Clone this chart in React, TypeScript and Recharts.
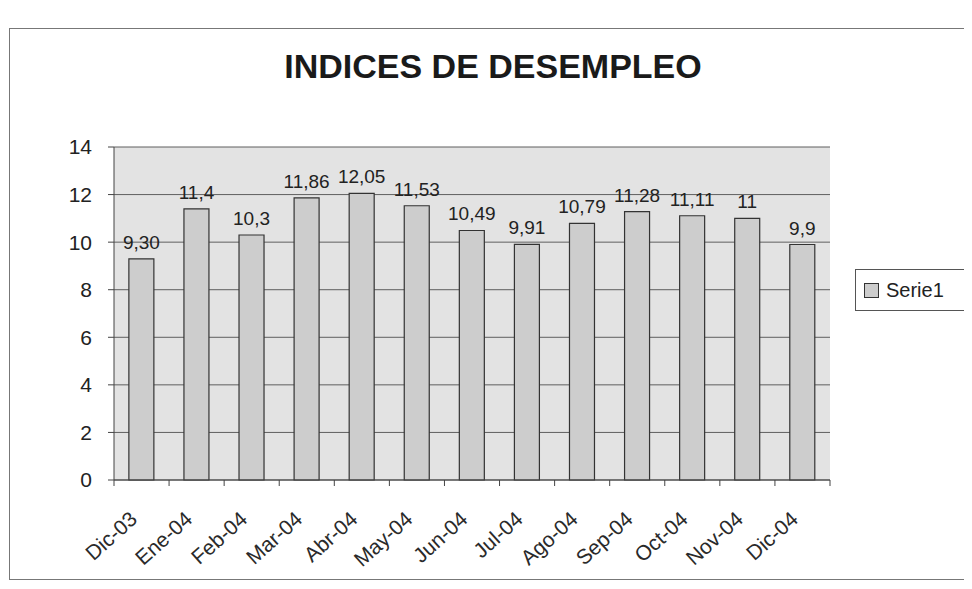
import React from "react";
import {
  BarChart,
  Bar,
  XAxis,
  YAxis,
  CartesianGrid,
  LabelList,
} from "recharts";

const categories = [
  "Dic-03", "Ene-04", "Feb-04", "Mar-04", "Abr-04", "May-04", "Jun-04",
  "Jul-04", "Ago-04", "Sep-04", "Oct-04", "Nov-04", "Dic-04",
];
const values = [9.3, 11.4, 10.3, 11.86, 12.05, 11.53, 10.49, 9.91, 10.79, 11.28, 11.11, 11, 9.9];
const valueLabels = ["9,30", "11,4", "10,3", "11,86", "12,05", "11,53", "10,49", "9,91", "10,79", "11,28", "11,11", "11", "9,9"];
const yTicks = [0, 2, 4, 6, 8, 10, 12, 14];
const seriesName = "Serie1";
const title = "INDICES DE DESEMPLEO";

const data = categories.map((c, i) => ({ name: c, value: values[i], label: valueLabels[i] }));

const FONT = "'Liberation Sans', Arial, sans-serif";
const CHART_W = 956;
const CHART_H = 573;
const MARGIN = { top: 139, right: 134, left: 56, bottom: 21 };
const PLOT_W = CHART_W - MARGIN.left - MARGIN.right - 50;

const XTick = (props: any) => {
  const { x, y, payload } = props;
  const half = PLOT_W / categories.length / 2;
  const ax = x - 3;
  const ay = y + 33;
  return (
    <g>
      <line x1={x + half} y1={y - 8} x2={x + half} y2={y - 2} stroke="#444" strokeWidth={1} />
      {payload.index === 0 && (
        <line x1={x - half} y1={y - 8} x2={x - half} y2={y - 2} stroke="#444" strokeWidth={1} />
      )}
      <text
        x={ax}
        y={ay}
        textAnchor="end"
        transform={`rotate(-42, ${ax}, ${ay})`}
        fill="#2a2a2a"
        fontSize={21}
        fontFamily={FONT}
      >
        {payload.value}
      </text>
    </g>
  );
};

export default function App() {
  return (
    <div style={{ position: "relative", width: CHART_W, height: CHART_H, background: "#fff" }}>
      <style>{"body{overflow:hidden;background:#fff}"}</style>
      <div
        style={{
          position: "absolute",
          left: 1,
          top: 20,
          width: 970,
          height: 552,
          borderTop: "1.5px solid #777",
          borderLeft: "1.5px solid #777",
          borderBottom: "1.5px solid #777",
          boxSizing: "border-box",
          pointerEvents: "none",
        }}
      />
      <div
        style={{
          position: "absolute",
          left: 0,
          top: 40,
          width: 970,
          textAlign: "center",
          fontFamily: FONT,
          fontWeight: "bold",
          fontSize: 34,
          color: "#1a1a1a",
          lineHeight: "36px",
        }}
      >
        {title}
      </div>
      <div
        style={{
          position: "absolute",
          left: 847,
          top: 261,
          width: 111,
          height: 42,
          border: "1px solid #555",
          boxSizing: "border-box",
          display: "flex",
          alignItems: "center",
          paddingLeft: 8,
          fontFamily: FONT,
          fontSize: 20,
          color: "#222",
          background: "#fff",
        }}
      >
        <span
          style={{
            display: "inline-block",
            width: 13,
            height: 13,
            border: "1px solid #333",
            background: "#cdcdcd",
            marginRight: 7,
          }}
        />
        {seriesName}
      </div>
      <BarChart width={CHART_W} height={CHART_H} data={data} margin={MARGIN} barCategoryGap="27%">
        <CartesianGrid vertical={false} stroke="#5f5f5f" fill="#e3e3e3" strokeWidth={1} />
        <XAxis
          dataKey="name"
          interval={0}
          height={80}
          tick={<XTick />}
          tickLine={false}
          axisLine={{ stroke: "#444" }}
        />
        <YAxis
          domain={[0, 14]}
          ticks={yTicks}
          width={50}
          interval={0}
          tickSize={6}
          tickMargin={16}
          tickLine={{ stroke: "#444" }}
          axisLine={{ stroke: "#444" }}
          tick={{ fill: "#222", fontSize: 21, fontFamily: FONT }}
        />
        <YAxis
          yAxisId="right"
          orientation="right"
          domain={[0, 14]}
          width={0}
          tick={false}
          tickLine={false}
          axisLine={{ stroke: "#888" }}
        />
        <Bar
          dataKey="value"
          name={seriesName}
          fill="#cdcdcd"
          stroke="#333"
          strokeWidth={1.2}
          isAnimationActive={false}
        >
          <LabelList
            dataKey="label"
            position="top"
            offset={10}
            fill="#222"
            fontSize={19}
            fontFamily={FONT}
          />
        </Bar>
      </BarChart>
    </div>
  );
}
